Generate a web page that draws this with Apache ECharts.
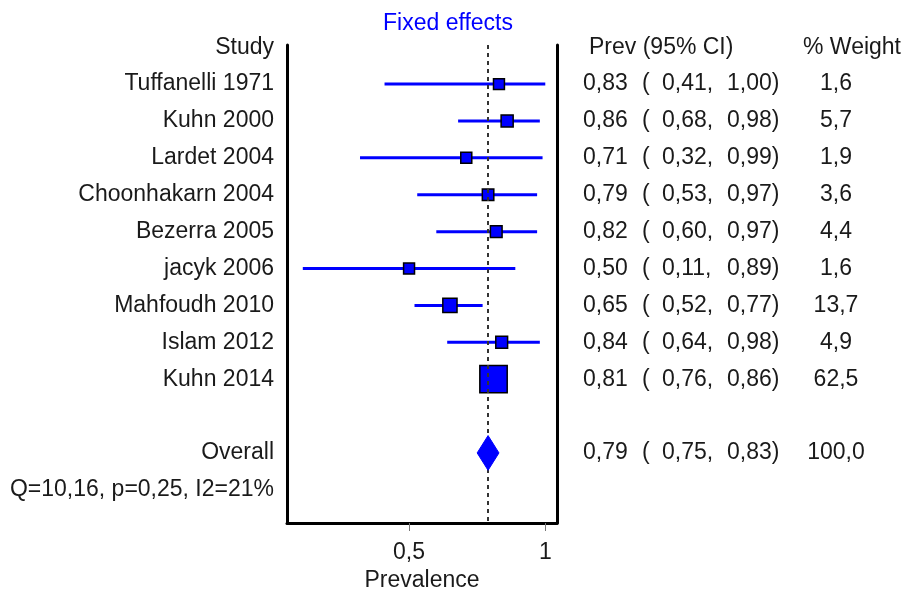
<!DOCTYPE html>
<html>
<head>
<meta charset="utf-8">
<script src="https://cdn.jsdelivr.net/npm/echarts@6/dist/echarts.min.js"></script>
<style>html,body{margin:0;padding:0;background:#fff;}#chart{width:907px;height:594px;}</style>
</head>
<body>
<div id="chart"></div>
<script>
// ---- data ----
const studies = ['Tuffanelli 1971','Kuhn 2000','Lardet 2004','Choonhakarn 2004','Bezerra 2005','jacyk 2006','Mahfoudh 2010','Islam 2012','Kuhn 2014'];
const prev   = [0.83, 0.86, 0.71, 0.79, 0.82, 0.50, 0.65, 0.84, 0.81];
const ciLow  = [0.41, 0.68, 0.32, 0.53, 0.60, 0.11, 0.52, 0.64, 0.76];
const ciHigh = [1.00, 0.98, 0.99, 0.97, 0.97, 0.89, 0.77, 0.98, 0.86];
const weight = [1.6, 5.7, 1.9, 3.6, 4.4, 1.6, 13.7, 4.9, 62.5];
const overallLabel = 'Overall';
const overallPrev = [0.79];
const overallLow = [0.75];
const overallHigh = [0.83];
const overallWeight = [100.0];
const heterogeneity = 'Q=10,16, p=0,25, I2=21%';
const xTickValues = [0.5, 1];
const headers = ['Study', 'Prev (95% CI)', '% Weight'];
const titleText = 'Fixed effects';
const xName = 'Prevalence';

// ---- helpers ----
const FONT = "'Liberation Sans', Arial, sans-serif";
const FS = 23;
const BLUE = '#0000ff';
const TEXT = '#1a1a1a';
const fmt2 = v => v.toFixed(2).replace('.', ',');
const fmt1 = v => v.toFixed(1).replace('.', ',');
const OVERALL_ROW = studies.length + 1;
const HET_ROW = studies.length + 2;
const HEADER_ROW = -1;

const textRows = [];
textRows.push({row: HEADER_ROW, header: true});
studies.forEach((s, i) => textRows.push({row: i, name: s, est: prev[i], lo: ciLow[i], hi: ciHigh[i], w: weight[i]}));
textRows.push({row: OVERALL_ROW, name: overallLabel, est: overallPrev[0], lo: overallLow[0], hi: overallHigh[0], w: overallWeight[0]});
textRows.push({row: HET_ROW, name: heterogeneity});

function txt(x, y, s, align) {
  return {type: 'text', x: x, y: y, style: {text: s, fill: TEXT, font: FS + 'px ' + FONT, textAlign: align || 'left', textVerticalAlign: 'middle'}};
}

const chart = echarts.init(document.getElementById('chart'), null, {renderer: 'canvas'});
const option = {
  animation: false,
  backgroundColor: '#fff',
  title: {
    text: titleText, left: 378, top: 7,
    textStyle: {color: BLUE, fontWeight: 'normal', fontSize: FS, fontFamily: FONT}
  },
  grid: {left: 287, right: 350, top: 45, bottom: 71, containLabel: false, outerBoundsMode: 'none'},
  xAxis: {
    type: 'value', min: 0.052, max: 1.043,
    axisLine: {show: true, onZero: false, lineStyle: {color: '#000', width: 3}},
    axisTick: {show: true, customValues: xTickValues, length: 8, lineStyle: {color: '#777', width: 1}},
    axisLabel: {show: true, customValues: xTickValues, margin: 18, color: TEXT, fontSize: FS, fontFamily: FONT,
      formatter: v => String(v).replace('.', ',')},
    splitLine: {show: false},
    name: xName, nameLocation: 'middle', nameGap: 43,
    nameTextStyle: {color: TEXT, fontSize: FS, fontFamily: FONT}
  },
  yAxis: [
    {type: 'value', inverse: true, min: -1.06, max: 11.9, position: 'left',
      axisLine: {show: true, onZero: false, lineStyle: {color: '#000', width: 3}},
      axisTick: {show: false}, axisLabel: {show: false}, splitLine: {show: false}},
    {type: 'value', inverse: true, min: -1.06, max: 11.9, position: 'right',
      axisLine: {show: true, onZero: false, lineStyle: {color: '#000', width: 3}},
      axisTick: {show: false}, axisLabel: {show: false}, splitLine: {show: false}}
  ],
  series: [
    {
      type: 'custom', name: 'studies', z: 2,
      data: studies.map((s, i) => [ciLow[i], ciHigh[i], prev[i], i, weight[i]]),
      encode: {x: [0, 1, 2], y: 3},
      renderItem: function (params, api) {
        const row = api.value(3);
        const l = api.coord([api.value(0), row]);
        const h = api.coord([api.value(1), row]);
        const e = api.coord([api.value(2), row]);
        const size = 10.5 + 0.27 * api.value(4);
        return {type: 'group', children: [
          {type: 'line', shape: {x1: l[0], y1: l[1], x2: h[0], y2: h[1]}, style: {stroke: BLUE, lineWidth: 3}},
          {type: 'rect', shape: {x: e[0] - size / 2, y: e[1] - size / 2, width: size, height: size},
            style: {fill: BLUE, stroke: '#000', lineWidth: 1.5}}
        ]};
      }
    },
    {
      type: 'custom', name: 'overall', z: 5,
      data: [[overallLow[0], overallHigh[0], overallPrev[0], OVERALL_ROW]],
      encode: {x: [0, 1, 2], y: 3},
      renderItem: function (params, api) {
        const row = api.value(3);
        const l = api.coord([api.value(0), row]);
        const h = api.coord([api.value(1), row]);
        const t = api.coord([api.value(2), row - 0.47]);
        const b = api.coord([api.value(2), row + 0.47]);
        return {type: 'polygon', shape: {points: [l, t, h, b]}, style: {fill: BLUE, stroke: BLUE, lineWidth: 1}};
      },
      markLine: {
        silent: true, symbol: 'none', z: 4,
        label: {show: false},
        lineStyle: {color: '#333', width: 2, type: [4, 4]},
        data: [{xAxis: overallPrev[0]}]
      }
    },
    {
      type: 'custom', name: 'text', z: 6,
      data: textRows.map((r, i) => [0.5, r.row, i]),
      encode: {x: 0, y: 1},
      renderItem: function (params, api) {
        const r = textRows[api.value(2)];
        const cs = params.coordSys;
        const y = api.coord([0.5, r.row])[1];
        const L = cs.x, R = cs.x + cs.width;
        const kids = [];
        if (r.header) {
          kids.push(txt(L - 13, y, headers[0], 'right'));
          kids.push(txt(R + 32, y, headers[1], 'left'));
          kids.push(txt(R + 295, y, headers[2], 'center'));
        } else {
          kids.push(txt(L - 13, y, r.name, 'right'));
          if (r.est !== undefined) {
            kids.push(txt(R + 26, y, fmt2(r.est), 'left'));
            kids.push(txt(R + 85, y, '(', 'left'));
            kids.push(txt(R + 105, y, fmt2(r.lo) + ',', 'left'));
            kids.push(txt(R + 170, y, fmt2(r.hi) + ')', 'left'));
            kids.push(txt(R + 279, y, fmt1(r.w), 'center'));
          }
        }
        return {type: 'group', children: kids};
      }
    }
  ]
};
chart.setOption(option);
</script>
</body>
</html>
